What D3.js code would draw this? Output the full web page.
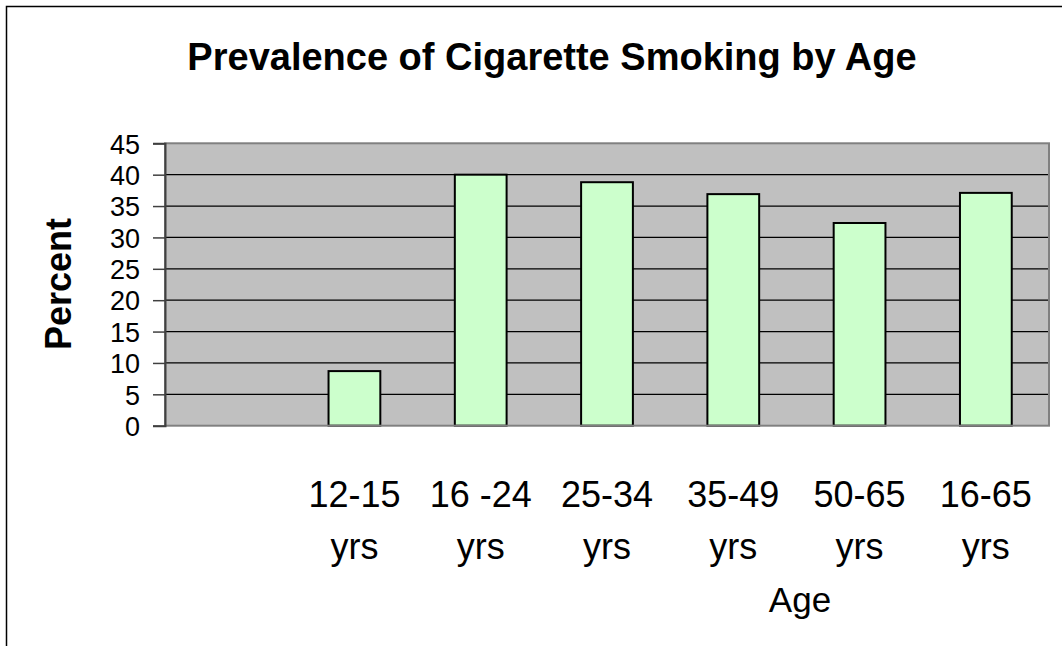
<!DOCTYPE html>
<html>
<head>
<meta charset="utf-8">
<script src="https://cdn.jsdelivr.net/npm/d3@7"></script>
<style>
  body { margin: 0; background: #fff; }
  svg { display: block; font-family: "Liberation Sans", Arial, sans-serif; }
</style>
</head>
<body>
<div id="chart"></div>
<script>
// data
const categories = ["", "12-15 yrs", "16 -24 yrs", "25-34 yrs", "35-49 yrs", "50-65 yrs", "16-65 yrs"];
const values = [null, 8.7, 40, 38.8, 36.9, 32.3, 37.1];
const yTicks = [0, 5, 10, 15, 20, 25, 30, 35, 40, 45];
const title = "Prevalence of Cigarette Smoking by Age";

const width = 1062, height = 646;
const plot = { left: 165, right: 1049, top: 143.3, bottom: 425.7 };

const svg = d3.select("#chart").append("svg")
    .attr("width", width)
    .attr("height", height);

// outer frame (runs off the right and bottom edge)
svg.append("rect")
    .attr("x", 6.5).attr("y", 6.5)
    .attr("width", width + 10).attr("height", height + 10)
    .attr("fill", "none")
    .attr("stroke", "#000")
    .attr("stroke-width", 1.5);

const x = d3.scaleBand()
    .domain(d3.range(categories.length))
    .range([plot.left, plot.right]);

const y = d3.scaleLinear()
    .domain([0, 45])
    .range([plot.bottom, plot.top]);

// plot background
svg.append("rect")
    .attr("x", plot.left).attr("y", plot.top)
    .attr("width", plot.right - plot.left).attr("height", plot.bottom - plot.top)
    .attr("fill", "#c0c0c0");

// gridlines
svg.append("g")
    .selectAll("line")
    .data(yTicks.filter(d => d > 0 && d < 45))
    .enter().append("line")
    .attr("x1", plot.left).attr("x2", plot.right)
    .attr("y1", d => y(d)).attr("y2", d => y(d))
    .attr("stroke", "#000")
    .attr("stroke-width", 1.2);

// bars
const barW = x.bandwidth() * 0.41;
svg.append("g")
    .selectAll("rect")
    .data(values.map((v, i) => ({ i, v })).filter(d => d.v != null))
    .enter().append("rect")
    .attr("x", d => x(d.i) + (x.bandwidth() - barW) / 2)
    .attr("y", d => y(d.v))
    .attr("width", barW)
    .attr("height", d => y(0) - y(d.v))
    .attr("fill", "#ccffcc")
    .attr("stroke", "#000")
    .attr("stroke-width", 2);

// plot border
svg.append("rect")
    .attr("x", plot.left).attr("y", plot.top)
    .attr("width", plot.right - plot.left).attr("height", plot.bottom - plot.top)
    .attr("fill", "none")
    .attr("stroke", "#808080")
    .attr("stroke-width", 2);

// y axis
const yAxis = d3.axisLeft(y)
    .tickValues(yTicks)
    .tickSize(12)
    .tickPadding(13)
    .tickFormat(d3.format("d"));

const yg = svg.append("g")
    .attr("transform", `translate(${plot.left},0)`)
    .call(yAxis);
yg.select(".domain").attr("stroke", "#404040").attr("stroke-width", 2);
yg.selectAll(".tick line").attr("stroke", "#404040").attr("stroke-width", 1.5);
yg.selectAll(".tick text")
    .attr("font-size", 27)
    .attr("font-family", "Liberation Sans, Arial, sans-serif")
    .attr("fill", "#000")
    .attr("dy", "0.36em");

// x axis category labels (two lines)
const xLabels = svg.append("g")
    .selectAll("text")
    .data(categories.map((c, i) => ({ c, i })).filter(d => d.c))
    .enter().append("text")
    .attr("x", d => x(d.i) + x.bandwidth() / 2)
    .attr("y", 507)
    .attr("text-anchor", "middle")
    .attr("font-size", 36);
xLabels.each(function (d) {
    const parts = d.c.split(" yrs");
    const t = d3.select(this);
    t.append("tspan").attr("x", x(d.i) + x.bandwidth() / 2).text(parts[0]);
    t.append("tspan").attr("x", x(d.i) + x.bandwidth() / 2).attr("dy", 52).text("yrs");
});

// axis titles
svg.append("text")
    .attr("x", 800).attr("y", 612)
    .attr("text-anchor", "middle")
    .attr("font-size", 35)
    .text("Age");

svg.append("text")
    .attr("transform", "translate(71,284) rotate(-90)")
    .attr("text-anchor", "middle")
    .attr("font-size", 36)
    .attr("font-weight", "bold")
    .text("Percent");

// chart title
svg.append("text")
    .attr("x", 552).attr("y", 70)
    .attr("text-anchor", "middle")
    .attr("font-size", 38)
    .attr("font-weight", "bold")
    .text(title);
</script>
</body>
</html>
